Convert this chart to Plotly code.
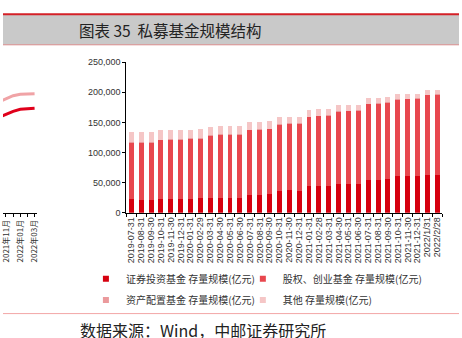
import plotly.graph_objects as go

# ---------------- data ----------------
dates = ["2019-07-31","2019-08-31","2019-09-30","2019-10-31","2019-11-30","2019-12-31",
         "2020-01-31","2020-02-29","2020-03-31","2020-04-30","2020-05-31","2020-06-30",
         "2020-07-31","2020-08-31","2020-09-30","2020-10-31","2020-11-30","2020-12-31",
         "2021-01-31","2021-02-28","2021-03-31","2021-04-30","2021-05-31","2021-06-30",
         "2021-07-31","2021-08-31","2021-09-30","2021-10-31","2021-11-30","2021-12-31",
         "2022/1/31","2022/2/28"]
securities = [23000, 21500, 21500, 23000, 23000, 23000, 23000, 24500, 25000, 25000, 25000, 25000,
              30000, 30000, 31500, 36500, 37000, 36500, 43500, 43500, 44500, 47500, 48000, 48000,
              54000, 54000, 56000, 60500, 60500, 60500, 62000, 62000]
equity = [94000, 95500, 95500, 97500, 98000, 98000, 100000, 99000, 103000, 104600, 104600, 104600,
          107100, 107600, 107200, 110300, 110800, 111900, 115600, 117300, 117300, 120200, 120800, 121400,
          126600, 127700, 127300, 127700, 128200, 129300, 133200, 134200]
allocation = [700]*32
others = [16700, 16700, 16700, 16400, 15900, 15900, 14300, 14300, 13800, 13200, 13200, 13200,
          12700, 12200, 12200, 11600, 11200, 10600, 11200, 10500, 10600, 10100, 9500, 9500,
          9000, 8500, 8500, 8400, 7900, 7300, 7900, 7400]
series_names = ["证券投资基金 存量规模(亿元)", "股权、创业基金 存量规模(亿元)",
                "资产配置基金 存量规模(亿元)", "其他 存量规模(亿元)"]
series_colors = ["#d6000f", "#e8474e", "#eb9a9c", "#f5c6c6"]
y_ticks = [0, 50000, 100000, 150000, 200000, 250000]
y_ticktext = ["0", "50,000", "100,000", "150,000", "200,000", "250,000"]

# fragment of the neighbouring chart (left edge)
left_months = ["2021年10月", "2021年11月", "2021年12月", "2022年01月", "2022年02月", "2022年03月"]
left_pink = [183900, 188700, 194400, 196800, 196800, 197600]
left_red = [158100, 162900, 168500, 171800, 172600, 173400]
left_ticktext = ["", "2021年11月", "", "2022年01月", "", "2022年03月"]

W, H = 462, 338
def px(x): return x / W
def py(y): return 1 - y / H

fig = go.Figure()
for name, vals, col in zip(series_names, [securities, equity, allocation, others], series_colors):
    fig.add_trace(go.Bar(x=dates, y=vals, name=name, marker=dict(color=col, line=dict(width=0)),
                         showlegend=False, xaxis="x", yaxis="y"))
# legend entries (small square swatches), one legend box per entry
legend_ids = ["legend", "legend2", "legend3", "legend4"]
for name, col, lid in zip(series_names, series_colors, legend_ids):
    fig.add_trace(go.Scatter(x=[None], y=[None], mode="markers", name=name,
                             marker=dict(symbol="square", size=6, color=col),
                             legend=lid, xaxis="x", yaxis="y"))

fig.add_trace(go.Scatter(x=left_months, y=left_pink, mode="lines", line=dict(color="#f0a3a6", width=3),
                         showlegend=False, xaxis="x2", yaxis="y2"))
fig.add_trace(go.Scatter(x=left_months, y=left_red, mode="lines", line=dict(color="#e0001b", width=3),
                         showlegend=False, xaxis="x2", yaxis="y2"))

tickfont = dict(family="Liberation Sans, Arial", size=9, color="#333333")
legend_common = dict(orientation="h", xanchor="left", yanchor="middle",
                     bgcolor="rgba(0,0,0,0)",
                     font=dict(family="Noto Sans CJK SC", size=10, color="#333333"))
fig.update_layout(
    width=W, height=H, margin=dict(l=0, r=0, t=0, b=0),
    paper_bgcolor="white", plot_bgcolor="white",
    barmode="stack", bargap=0.5,
    font=dict(family="Noto Sans CJK SC", color="#333333"),
    xaxis=dict(domain=[px(125), px(445)], anchor="y", type="category", range=[-0.5, 31.5],
               tickmode="array", tickvals=dates, ticktext=dates,
               showline=True, linecolor="black", linewidth=1, ticks="outside", ticklen=3,
               tickcolor="black", tickson="boundaries", tickangle=-90, tickfont=tickfont,
               showgrid=False, zeroline=False),
    yaxis=dict(domain=[py(214), py(59)], anchor="x", range=[0, 250000],
               tickvals=y_ticks, ticktext=y_ticktext,
               showline=True, linecolor="black", linewidth=1, ticks="outside", ticklen=3,
               tickcolor="black", tickfont=tickfont, showgrid=False, zeroline=False),
    xaxis2=dict(domain=[0, px(34)], anchor="y2", type="category", range=[0.586, 5.276],
                tickmode="array", tickvals=left_months, ticktext=left_ticktext,
                showline=True, linecolor="black", linewidth=1, ticks="outside", ticklen=3,
                tickcolor="black", tickangle=-90,
                tickfont=dict(family="Noto Sans CJK SC", size=8, color="#333333"),
                showgrid=False, zeroline=False),
    yaxis2=dict(domain=[py(214), py(59)], anchor="x2", range=[0, 250000], visible=False),
    legend=dict(x=px(84), y=py(282), **legend_common),
    legend2=dict(x=px(243), y=py(282), **legend_common),
    legend3=dict(x=px(84), y=py(304), **legend_common),
    legend4=dict(x=px(243), y=py(304), **legend_common),
)

shapes = [
    dict(type="rect", xref="paper", yref="paper", x0=0, x1=1, y0=py(41), y1=py(10),
         fillcolor="#c9c9c9", line=dict(width=0), layer="below"),
    dict(type="line", xref="paper", yref="paper", x0=0, x1=1, y0=py(9.5), y1=py(9.5),
         line=dict(color="#d42027", width=2)),
    dict(type="line", xref="paper", yref="paper", x0=0, x1=1, y0=py(41), y1=py(41),
         line=dict(color="#d98c8c", width=1)),
    dict(type="line", xref="paper", yref="paper", x0=0, x1=1, y0=py(318), y1=py(318),
         line=dict(color="#f2a7a7", width=1)),
]
fig.update_layout(shapes=shapes)

fig.add_annotation(text="图表 35  私募基金规模结构", xref="paper", yref="paper",
                   x=px(75), y=py(26), xanchor="left", yanchor="middle", showarrow=False,
                   font=dict(family="Noto Sans CJK SC", size=15.5, color="#222222"))
fig.add_annotation(text="数据来源：Wind，中邮证券研究所", xref="paper", yref="paper",
                   x=px(76), y=py(335), xanchor="left", yanchor="middle", showarrow=False,
                   font=dict(family="Noto Sans CJK SC", size=16, color="#222222"))

fig.write_html("out.html")
